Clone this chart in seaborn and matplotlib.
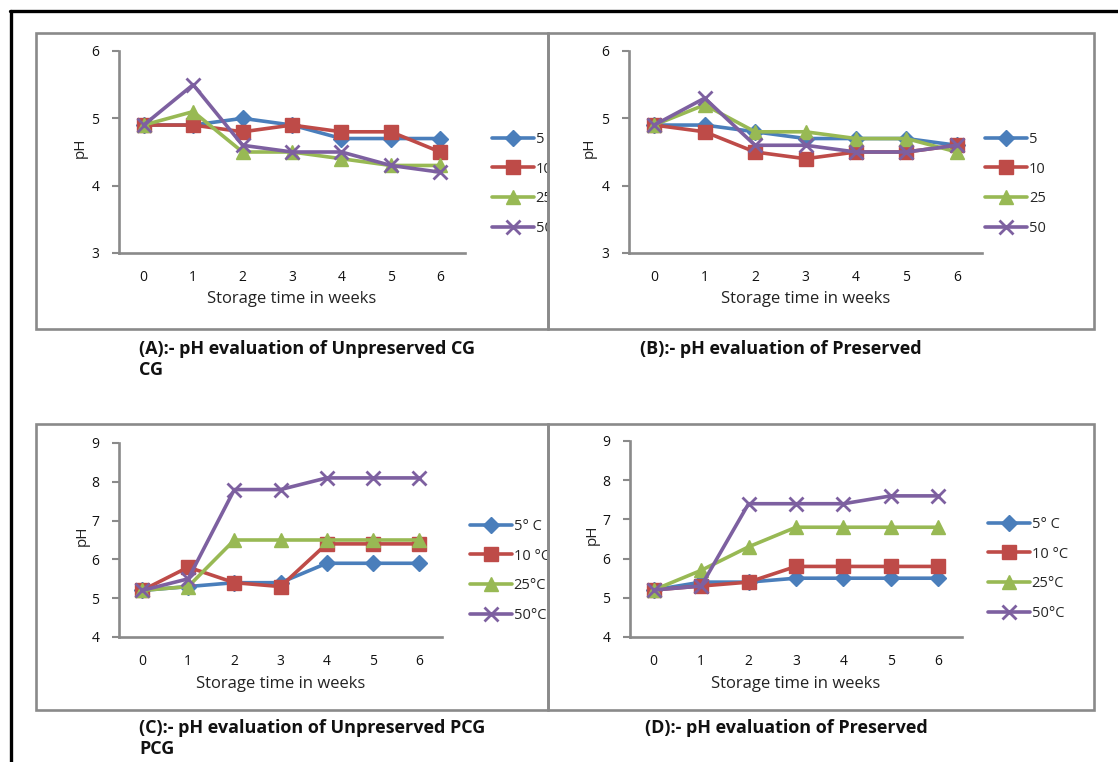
import matplotlib
matplotlib.use("Agg")
import matplotlib.pyplot as plt
import seaborn as sns
from matplotlib.lines import Line2D
from matplotlib.patches import Rectangle

# ---------------- data ----------------
weeks = [0, 1, 2, 3, 4, 5, 6]

# (A) Unpreserved CG
a_5 = [4.9, 4.9, 5.0, 4.9, 4.7, 4.7, 4.7]
a_10 = [4.9, 4.9, 4.8, 4.9, 4.8, 4.8, 4.5]
a_25 = [4.9, 5.1, 4.5, 4.5, 4.4, 4.3, 4.3]
a_50 = [4.9, 5.5, 4.6, 4.5, 4.5, 4.3, 4.2]

# (B) Preserved CG
b_5 = [4.9, 4.9, 4.8, 4.7, 4.7, 4.7, 4.6]
b_10 = [4.9, 4.8, 4.5, 4.4, 4.5, 4.5, 4.6]
b_25 = [4.9, 5.2, 4.8, 4.8, 4.7, 4.7, 4.5]
b_50 = [4.9, 5.3, 4.6, 4.6, 4.5, 4.5, 4.6]

# (C) Unpreserved PCG
c_5 = [5.2, 5.3, 5.4, 5.4, 5.9, 5.9, 5.9]
c_10 = [5.2, 5.8, 5.4, 5.3, 6.4, 6.4, 6.4]
c_25 = [5.2, 5.3, 6.5, 6.5, 6.5, 6.5, 6.5]
c_50 = [5.2, 5.5, 7.8, 7.8, 8.1, 8.1, 8.1]

# (D) Preserved PCG
d_5 = [5.2, 5.4, 5.4, 5.5, 5.5, 5.5, 5.5]
d_10 = [5.2, 5.3, 5.4, 5.8, 5.8, 5.8, 5.8]
d_25 = [5.2, 5.7, 6.3, 6.8, 6.8, 6.8, 6.8]
d_50 = [5.2, 5.3, 7.4, 7.4, 7.4, 7.6, 7.6]

labels_cg = ["5", "10", "25", "50"]
labels_pcg = ["5° C", "10 °C", "25°C", "50°C"]
yticks_cg = [3, 4, 5, 6]
yticks_pcg = [4, 5, 6, 7, 8, 9]
x_title = "Storage time in weeks"
y_title = "pH"
caption_a = "(A):- pH evaluation of Unpreserved CG\nCG"
caption_b = "(B):- pH evaluation of Preserved"
caption_c = "(C):- pH evaluation of Unpreserved PCG\nPCG"
caption_d = "(D):- pH evaluation of Preserved"

# ---------------- style ----------------
sns.set_style("white")
plt.rcParams["font.family"] = ["Open Sans", "DejaVu Sans"]

colors = ["#4A7EBB", "#BE4B48", "#98B954", "#7D60A0"]
markers = ["D", "s", "^", "x"]
msizes = [8, 9.5, 10, 10]
W, H = 1118, 762
fig = plt.figure(figsize=(W / 100, H / 100), dpi=100)
fig.patch.set_facecolor("white")


def fx(px):
    return px / W


def fy(py):
    return 1 - py / H


def add_ax(left, top, right, bottom):
    return fig.add_axes([fx(left), fy(bottom), fx(right - left), (bottom - top) / H])


grey = "#8A8A8A"


def draw_panel(ax, series, labels, yticks, leg_x, leg_y, xlab_y):
    for vals, lab, col, mk, ms in zip(series, labels, colors, markers, msizes):
        sns.lineplot(x=weeks, y=vals, ax=ax, color=col, marker=mk, markersize=ms,
                     linewidth=2.6, markeredgecolor=col,
                     markeredgewidth=2.0 if mk == "x" else 1.0, label=lab)
    ax.set_xlim(-0.5, 6.5)
    ax.set_ylim(yticks[0], yticks[-1])
    ax.set_yticks(yticks)
    ax.set_xticks(weeks)
    for s in ["top", "right"]:
        ax.spines[s].set_visible(False)
    for s in ["left", "bottom"]:
        ax.spines[s].set_color(grey)
        ax.spines[s].set_linewidth(1.9)
    ax.tick_params(axis="y", length=5, width=1.5, color=grey, pad=9,
                   labelsize=10, labelcolor="#111111", direction="out", left=True)
    ax.tick_params(axis="x", length=0, pad=12, labelsize=10, labelcolor="#111111")
    ax.set_xlabel(x_title, fontsize=12, color="#222222")
    ax.set_ylabel(y_title, fontsize=11, color="#222222")
    ax.yaxis.set_label_coords(-0.09, 0.52)
    ax.xaxis.set_label_coords(0.5, xlab_y)
    handles, labs = ax.get_legend_handles_labels()
    ax.legend(handles, labs, loc="upper left",
              bbox_to_anchor=(fx(leg_x), fy(leg_y - 5)),
              bbox_transform=fig.transFigure, frameon=False, fontsize=10.5,
              borderpad=0, borderaxespad=0, handlelength=2.9, handletextpad=0.1,
              labelspacing=1.0)


axA = add_ax(119, 51, 465, 253)
draw_panel(axA, [a_5, a_10, a_25, a_50], labels_cg, yticks_cg, 492, 137, -0.19)
axB = add_ax(629, 51, 982, 253)
draw_panel(axB, [b_5, b_10, b_25, b_50], labels_cg, yticks_cg, 985, 137, -0.19)
axC = add_ax(119, 443, 442, 637)
draw_panel(axC, [c_5, c_10, c_25, c_50], labels_pcg, yticks_pcg, 470, 524, -0.2)
axD = add_ax(630, 441, 962, 637)
draw_panel(axD, [d_5, d_10, d_25, d_50], labels_pcg, yticks_pcg, 988, 522, -0.2)

# clip legend text that overflows the left panels
for (t, b) in [(110, 245), (500, 630)]:
    fig.add_artist(Rectangle((fx(549.5), fy(b)), fx(28), (b - t) / H,
                             transform=fig.transFigure, facecolor="white",
                             edgecolor="none", zorder=5))


# panel boxes
def box(l, t, r, b):
    fig.add_artist(Rectangle((fx(l), fy(b)), fx(r - l), (b - t) / H,
                             transform=fig.transFigure, facecolor="none",
                             edgecolor=grey, linewidth=1.9, zorder=6))


box(36, 33, 548, 329)
box(548, 33, 1094, 329)
box(36, 424, 548, 710)
box(548, 424, 1094, 710)

# outer black frame
fig.add_artist(Line2D([fx(10), fx(1118)], [fy(11), fy(11)], transform=fig.transFigure,
                      color="black", linewidth=2.4, zorder=7))
fig.add_artist(Line2D([fx(11), fx(11)], [fy(11), fy(762)], transform=fig.transFigure,
                      color="black", linewidth=2.4, zorder=7))

# captions
cap_kw = dict(fontsize=13, fontweight="bold", color="#111111", va="top", ha="left",
              linespacing=1.2)
fig.text(fx(139), fy(340), caption_a, **cap_kw)
fig.text(fx(640), fy(340), caption_b, **cap_kw)
fig.text(fx(139), fy(719), caption_c, **cap_kw)
fig.text(fx(645), fy(719), caption_d, **cap_kw)

fig.savefig("out.png", dpi=100, facecolor="white")
